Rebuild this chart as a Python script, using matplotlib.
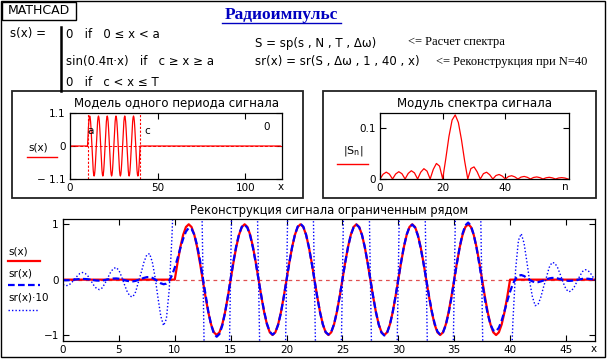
import numpy as np
import matplotlib
matplotlib.use("Agg")
import matplotlib.pyplot as plt
from matplotlib.lines import Line2D
from matplotlib.patches import Rectangle

plt.rcParams['font.family'] = ['DejaVu Sans']
plt.rcParams['mathtext.fontset'] = 'dejavusans'

# ---- data ----
a_pos, c_pos, T = 10, 40, 120

# sample positions of the bottom plot (step 0.25)
x = np.arange(0, 47.76, 0.25)

# s(x): zero before a, sine burst a..c, zero after c
s_pulse = [0.0, 0.309, 0.588, 0.809, 0.951, 1.0, 0.951, 0.809, 0.588, 0.309,
           0.0, -0.309, -0.588, -0.809, -0.951, -1.0, -0.951, -0.809, -0.588, -0.309,
           0.0, 0.309, 0.588, 0.809, 0.951, 1.0, 0.951, 0.809, 0.588, 0.309,
           0.0, -0.309, -0.588, -0.809, -0.951, -1.0, -0.951, -0.809, -0.588, -0.309,
           0.0, 0.309, 0.588, 0.809, 0.951, 1.0, 0.951, 0.809, 0.588, 0.309,
           0.0, -0.309, -0.588, -0.809, -0.951, -1.0, -0.951, -0.809, -0.588, -0.309,
           0.0, 0.309, 0.588, 0.809, 0.951, 1.0, 0.951, 0.809, 0.588, 0.309,
           0.0, -0.309, -0.588, -0.809, -0.951, -1.0, -0.951, -0.809, -0.588, -0.309,
           0.0, 0.309, 0.588, 0.809, 0.951, 1.0, 0.951, 0.809, 0.588, 0.309,
           0.0, -0.309, -0.588, -0.809, -0.951, -1.0, -0.951, -0.809, -0.588, -0.309,
           0.0, 0.309, 0.588, 0.809, 0.951, 1.0, 0.951, 0.809, 0.588, 0.309,
           0.0, -0.309, -0.588, -0.809, -0.951, -1.0, -0.951, -0.809, -0.588, -0.309,
           0.0]
s_vals = np.array([0.0] * 40 + s_pulse + [0.0] * 31)

# sr(x): reconstruction with 40 harmonics
sr_left = [-0.009, -0.011, -0.010, -0.006, 0.000, 0.006, 0.011, 0.013, 0.011, 0.006,
           -0.002, -0.010, -0.016, -0.018, -0.015, -0.007, 0.003, 0.013, 0.020, 0.022,
           0.017, 0.005, -0.009, -0.022, -0.030, -0.031, -0.022, -0.004, 0.013, 0.032,
           0.045, 0.047, 0.031, 0.003, -0.033, -0.066, -0.083, -0.071, -0.019, 0.078]
sr_mid = [0.217, 0.387, 0.569, 0.738, 0.868, 0.934, 0.918, 0.812, 0.619, 0.356,
          0.045, -0.277, -0.575, -0.813, -0.973, -1.031, -0.981, -0.831, -0.597, -0.304,
          0.017, 0.331, 0.608, 0.822, 0.954, 0.993, 0.936, 0.791, 0.572, 0.299,
          -0.002, -0.303, -0.577, -0.796, -0.940, -0.994, -0.951, -0.815, -0.598, -0.320,
          -0.009, 0.303, 0.586, 0.812, 0.959, 1.009, 0.958, 0.812, 0.586, 0.303,
          -0.008, -0.316, -0.592, -0.809, -0.947, -0.993, -0.944, -0.804, -0.586, -0.311,
          0.0, 0.311, 0.586, 0.804, 0.944, 0.993, 0.947, 0.809, 0.592, 0.316,
          0.008, -0.303, -0.586, -0.812, -0.958, -1.009, -0.959, -0.812, -0.586, -0.303,
          0.009, 0.320, 0.598, 0.815, 0.951, 0.994, 0.940, 0.796, 0.577, 0.303,
          0.002, -0.299, -0.572, -0.791, -0.936, -0.993, -0.954, -0.822, -0.608, -0.331,
          -0.017, 0.304, 0.597, 0.831, 0.981, 1.031, 0.973, 0.813, 0.575, 0.277,
          -0.045, -0.356, -0.619, -0.812, -0.918, -0.934, -0.868, -0.738, -0.569, -0.387,
          -0.217]
sr_right = [-0.078, 0.019, 0.071, 0.083, 0.066, 0.033, -0.003, -0.031, -0.047, -0.045,
            -0.032, -0.013, 0.004, 0.022, 0.031, 0.030, 0.022, 0.009, -0.005, -0.017,
            -0.022, -0.020, -0.013, -0.003, 0.007, 0.015, 0.018, 0.016, 0.010, 0.002,
            -0.006]
sr_vals = np.array(sr_left + sr_mid + sr_right)

# |S_n|, n = 0..60
n_vals = np.arange(0, 61)
Sn = [0.0, 0.0094, 0.0134, 0.0095, 0.0, 0.0098, 0.0142, 0.0103, 0.0, 0.0109,
      0.0161, 0.0119, 0.0, 0.0133, 0.0201, 0.0154, 0.0, 0.0188, 0.0303, 0.0251,
      0.0, 0.0400, 0.0830, 0.1149, 0.125, 0.1102, 0.0764, 0.0353, 0.0, 0.0204,
      0.0236, 0.0140, 0.0, 0.0105, 0.0132, 0.0083, 0.0, 0.0068, 0.0088, 0.0057,
      0.0, 0.0049, 0.0064, 0.0042, 0.0, 0.0037, 0.0050, 0.0033, 0.0, 0.0030,
      0.0040, 0.0027, 0.0, 0.0024, 0.0033, 0.0022, 0.0, 0.0020, 0.0027, 0.0019,
      0.0]

W, H = 609, 360
fig = plt.figure(figsize=(W / 100, H / 100), dpi=100)

# overlay in pixel coordinates for frames, texts and legend samples
bg = fig.add_axes([0, 0, 1, 1])
bg.set_xlim(0, W)
bg.set_ylim(H, 0)
bg.axis('off')
bg.set_zorder(-1)


def ax_rect(l, t, r, b):
    return [l / W, 1 - b / H, (r - l) / W, (b - t) / H]


def style(ax):
    ax.tick_params(direction='in', top=True, right=True, length=4, width=0.8,
                   labelsize=7.5, pad=3, colors='black')
    for sp in ax.spines.values():
        sp.set_linewidth(0.9)


# frames
bg.add_patch(Rectangle((0.5, 0.5), 604, 356.5, fill=False, lw=1, ec='black'))
bg.add_patch(Rectangle((2, 1.5), 74, 18, fill=False, lw=1, ec='black'))
bg.add_patch(Rectangle((12, 91), 291, 107, fill=False, lw=1.3, ec='#222222'))
bg.add_patch(Rectangle((323, 91), 273, 107, fill=False, lw=1.3, ec='#222222'))
bg.text(39, 11, 'MATHCAD', fontsize=9, ha='center', va='center')

# title
bg.text(281, 15, 'Радиоимпульс', fontsize=12.5, fontweight='bold', color='#0000c0',
        family=['Liberation Serif'], ha='center', va='center')
bg.add_line(Line2D([222, 341], [22.5, 22.5], color='#0000c0', lw=1))

# formula block
bg.text(10, 34, 's(x) =', fontsize=8.5, va='center')
bg.add_line(Line2D([61, 61], [27, 91], color='black', lw=1.8))
bg.text(66, 34, '0   if   0 ≤ x < a', fontsize=8.5, va='center')
bg.text(66, 61, 'sin(0.4π·x)   if   c ≥ x ≥ a', fontsize=8.5, va='center')
bg.text(66, 82, '0   if   c < x ≤ T', fontsize=8.5, va='center')

bg.text(255, 43, 'S = sp(s , N , T , Δω)', fontsize=8.5, va='center')
bg.text(255, 61, 'sr(x) = sr(S , Δω , 1 , 40 , x)', fontsize=8.5, va='center')
bg.text(408, 42, '<= Расчет спектра', fontsize=9, va='center',
        family=['Liberation Serif'])
bg.text(436, 62, '<= Реконструкция при N=40', fontsize=9, va='center',
        family=['Liberation Serif'])

# ---- top-left: one period ----
ax1 = fig.add_axes(ax_rect(70, 113, 282, 179))
ax1.axhline(0, color='red', lw=0.7, ls=(0, (3, 2)))
ax1.plot(np.append(x, T), np.append(s_vals, 0), color='red', lw=0.9)
ax1.axvline(a_pos, color='red', lw=0.8, ls=(0, (2, 1.5)))
ax1.axvline(c_pos, color='red', lw=0.8, ls=(0, (2, 1.5)))
ax1.text(a_pos, 0.5, 'a', fontsize=7.5, va='center')
ax1.text(c_pos + 2.5, 0.5, 'c', fontsize=7.5, va='center')
ax1.text(112, 0.62, '0', fontsize=7.5, va='center', ha='center')
ax1.set_xlim(0, 121)
ax1.set_ylim(-1.1, 1.1)
ax1.set_xticks([0, 50, 100])
ax1.set_yticks([-1.1, 0, 1.1])
ax1.set_yticklabels(['− 1.1', '0', '1.1'])
style(ax1)
ax1.set_title('Модель одного периода сигнала', fontsize=8.5, pad=4)
bg.text(281, 187, 'x', fontsize=7.5, ha='center', va='center')
bg.text(38, 148, 's(x)', fontsize=7.5, ha='center', va='center')
bg.add_line(Line2D([27, 57], [157, 157], color='red', lw=1))

# ---- top-right: spectrum ----
ax2 = fig.add_axes(ax_rect(380, 113, 569, 179))
ax2.plot(n_vals, Sn, color='red', lw=0.9)
ax2.set_xlim(0, 60.3)
ax2.set_ylim(0, 0.1287)
ax2.set_xticks([0, 20, 40])
ax2.set_yticks([0, 0.1])
ax2.set_yticklabels(['0', '0.1'])
style(ax2)
ax2.set_title('Модуль спектра сигнала', fontsize=8.5, pad=4)
bg.text(565, 187, 'n', fontsize=7.5, ha='center', va='center')
bg.text(353, 151, r'$|\mathrm{S}_{\mathrm{n}}|$', fontsize=8, ha='center', va='center')
bg.add_line(Line2D([337, 368], [164, 164], color='red', lw=1))

# ---- bottom: reconstruction ----
ax3 = fig.add_axes(ax_rect(63, 219.3, 595, 341))
ax3.axhline(0, color='#e05050', lw=0.9, ls=(0, (3, 3)))
ax3.plot(x, s_vals, color='red', lw=1.6)
ax3.plot(x, sr_vals, color='blue', lw=1.6, ls=(0, (3, 1.5)))
ax3.plot(x, sr_vals * 10, color='blue', lw=1, ls=(0, (1, 1.5)))
ax3.set_xlim(0, 47.6)
ax3.set_ylim(-1.108, 1.09)
ax3.set_xticks(np.arange(0, 46, 5))
ax3.set_yticks([-1, 0, 1])
ax3.set_yticklabels(['−1', '0', '1'])
style(ax3)
ax3.set_title('Реконструкция сигнала ограниченным рядом', fontsize=8.3, pad=4)
bg.text(594, 349, 'x', fontsize=7.5, ha='center', va='center')

bg.text(8, 251, 's(x)', fontsize=7.5, va='center')
bg.add_line(Line2D([8, 40], [261, 261], color='red', lw=1.6))
bg.text(8, 273, 'sr(x)', fontsize=7.5, va='center')
bg.add_line(Line2D([8, 40], [285, 285], color='blue', lw=1.6, ls=(0, (3, 1.5))))
bg.text(8, 297, 'sr(x)·10', fontsize=7.5, va='center')
bg.add_line(Line2D([8, 38], [310, 310], color='blue', lw=1, ls=(0, (1, 1.5))))

fig.savefig('out.png', dpi=100)
